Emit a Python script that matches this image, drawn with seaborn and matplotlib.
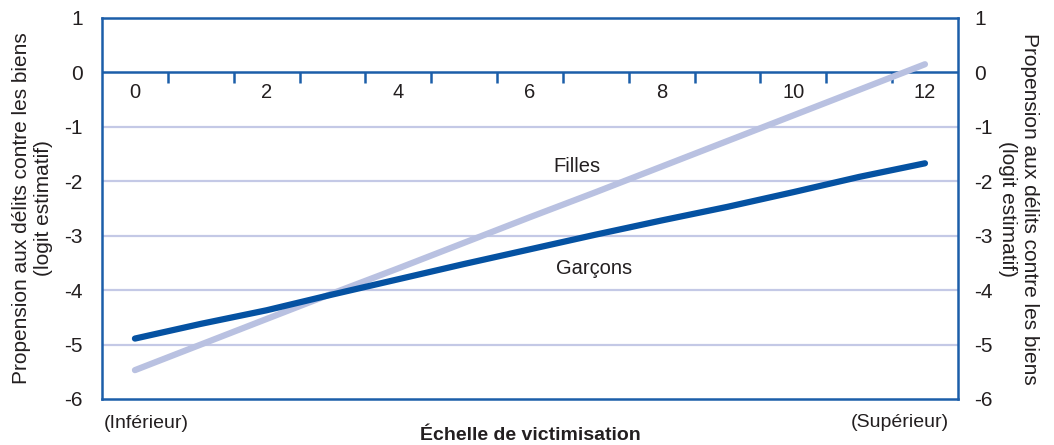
import numpy as np
import matplotlib
matplotlib.use("Agg")
import matplotlib.pyplot as plt
import pandas as pd
import seaborn as sns

# values
echelle = [0, 1, 2, 3, 4, 5, 6, 7, 8, 9, 10, 11, 12]
filles = [-5.47, -5.0, -4.53, -4.06, -3.6, -3.13, -2.66, -2.2, -1.73, -1.26, -0.79, -0.32, 0.15]
garcons = [-4.89, -4.62, -4.37, -4.08, -3.8, -3.52, -3.25, -2.98, -2.72, -2.47, -2.2, -1.92, -1.67]
x_labels = [0, 2, 4, 6, 8, 10, 12]
y_ticks = [1, 0, -1, -2, -3, -4, -5, -6]
zero_ticks = [0.5, 1.5, 2.5, 3.5, 4.5, 5.5, 6.5, 7.5, 8.5, 9.5, 10.5, 11.5]

dark = "#0552a2"
light = "#b9c1e1"
grid = "#c4c9e6"
frame = "#1c5ea9"
txt = "#231f20"

sns.set_style("white")
plt.rcParams['font.family'] = ['Liberation Sans Narrow', 'Liberation Sans', 'DejaVu Sans']

df = pd.DataFrame({
    "x": echelle * 2,
    "y": filles + garcons,
    "groupe": ["Filles"] * len(echelle) + ["Garçons"] * len(echelle),
})

fig = plt.figure(figsize=(10.54, 4.45), dpi=100)
ax = fig.add_axes([0.0968, 0.1034, 0.812, 0.8562])

for v in y_ticks:
    if v not in (0, 1, -6):
        ax.axhline(v, color=grid, lw=1.6, zorder=1)

ax.axhline(0, color=frame, lw=1.8, zorder=2)
ax.vlines(zero_ticks, -0.2, 0, color=frame, lw=1.8, zorder=2)

sns.lineplot(data=df, x="x", y="y", hue="groupe",
             palette={"Filles": light, "Garçons": dark},
             linewidth=4.5, legend=False, ax=ax, zorder=3)
for l in ax.lines:
    l.set_solid_capstyle("round")
    l.set_solid_joinstyle("round")

ax.set_xlim(-0.5, 12.5)
ax.set_ylim(-6, 1)
ax.set_xticks([])
ax.set_yticks(y_ticks)
ax.set_yticklabels([str(v) for v in y_ticks], fontsize=15, color=txt)
ax.tick_params(axis="y", length=0, pad=14)

for v in x_labels:
    ax.text(v, -0.2, str(v), ha="center", va="top", fontsize=14.5, color=txt)

ax.text(6.72, -1.72, "Filles", ha="center", va="center", fontsize=14.5, color=txt)
ax.text(6.98, -3.6, "Garçons", ha="center", va="center", fontsize=14.5, color=txt)

for s in ax.spines.values():
    s.set_color(frame)
    s.set_linewidth(1.8)

ylab = "Propension aux délits contre les biens\n(logit estimatif)"
ax.set_ylabel(ylab, fontsize=15, color=txt, linespacing=1.2, labelpad=8)
ax.set_xlabel("Échelle de victimisation", fontsize=14, fontweight="bold",
              color=txt, labelpad=20)

ax2 = ax.twinx()
ax2.set_ylim(-6, 1)
ax2.set_yticks(y_ticks)
ax2.set_yticklabels([str(v) for v in y_ticks], fontsize=15, color=txt)
ax2.tick_params(axis="y", length=0, pad=12)
ax2.set_ylabel(ylab, fontsize=15, color=txt, rotation=270, linespacing=1.2,
               labelpad=33)
for s in ax2.spines.values():
    s.set_visible(False)

fig.text(0.139, 0.048, "(Inférieur)", ha="center", va="center", fontsize=14, color=txt)
fig.text(0.854, 0.05, "(Supérieur)", ha="center", va="center", fontsize=14, color=txt)

fig.savefig("out.png", dpi=100)
